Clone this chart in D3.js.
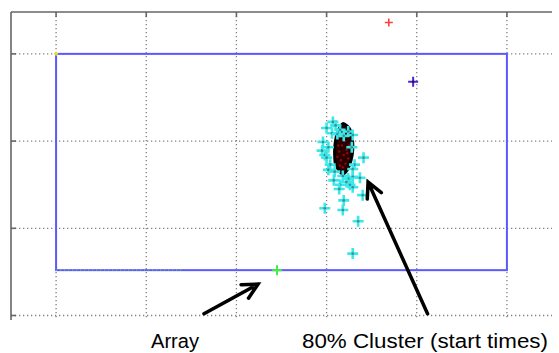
<!DOCTYPE html>
<html>
<head>
<meta charset="utf-8">
<script src="https://cdn.jsdelivr.net/npm/d3@7"></script>
<style>
  html, body { margin: 0; padding: 0; background: #fff; }
  svg { display: block; }
</style>
</head>
<body>
<div id="stage"></div>
<script>
const width = 559, height = 353;

// grid ticks (unlabelled in the original)
const xTicks = [0, 1, 2, 3, 4, 5];
const yTicks = [0, 1, 2, 3];

// search box
const boxX = [0, 5];
const boxY = [0.52, 3];

// array position and the dotted array segment along the box edge
const arrayPt = [2.45, 0.52];
const arraySeg = [0, 1.4];
const cornerPt = [0, 3];

// outliers
const redPt = [3.69, 3.36];
const purplePt = [3.96, 2.68];

// 80% cluster of start times (black outline + dark red fill)
const clusterX = [3.18, 3.23, 3.26, 3.28, 3.29, 3.29, 3.28, 3.26, 3.23, 3.18, 3.14, 3.10, 3.09, 3.09, 3.10, 3.12, 3.15];
const clusterY = [2.20, 2.17, 2.13, 2.06, 1.98, 1.90, 1.82, 1.74, 1.67, 1.62, 1.66, 1.73, 1.82, 1.92, 2.01, 2.10, 2.16];
const redDotX = [3.15, 3.20, 3.17, 3.22, 3.14, 3.19, 3.24, 3.16, 3.21, 3.18, 3.13, 3.25, 3.20, 3.15, 3.23, 3.18, 3.12];
const redDotY = [2.05, 2.00, 1.95, 1.90, 1.88, 1.84, 1.80, 1.78, 1.74, 1.70, 1.95, 1.95, 2.10, 1.72, 1.86, 2.14, 1.82];

// scattered start times
const cyanX = [3.07, 3.15, 3.00, 3.06, 3.12, 3.19, 2.96, 3.02, 2.95, 2.98, 3.00, 3.04, 3.02, 3.29, 3.28, 3.41, 3.31, 3.29, 3.09,
  3.18, 3.29, 3.37, 3.24, 3.15, 3.26, 3.29, 3.14, 3.40, 3.19, 3.18, 2.98, 3.35, 3.29, 3.08, 3.22, 3.10, 3.24];
const cyanY = [2.22, 2.13, 2.15, 2.09, 2.08, 2.06, 1.99, 1.93, 1.89, 1.84, 1.81, 1.73, 1.67, 2.07, 1.93, 1.81, 1.73, 1.68, 1.65,
  1.60, 1.59, 1.58, 1.57, 1.50, 1.50, 1.47, 1.45, 1.38, 1.32, 1.21, 1.23, 1.08, 0.71, 1.55, 1.53, 2.18, 2.11];

// annotations: [tailX, tailY, tipX, tipY]
const arrows = [[1.64, 0.02, 2.24, 0.36], [4.12, 0.02, 3.46, 1.53]];
const labels = ['Array', '80% Cluster (start times)'];

const svg = d3.select('#stage').append('svg')
  .attr('width', width)
  .attr('height', height)
  .style('background', '#fff');

const x = d3.scaleLinear().domain([-0.5, 5.5]).range([11, 552]);
const y = d3.scaleLinear().domain([-0.04, 3.48]).range([319, 12]);

// grid
const grid = svg.append('g')
  .attr('stroke', '#808080')
  .attr('stroke-width', 1.3)
  .attr('stroke-dasharray', '1.3,2.7');
grid.selectAll('.vg').data(xTicks).join('line')
  .attr('class', 'vg')
  .attr('x1', d => x(d)).attr('x2', d => x(d))
  .attr('y1', y.range()[1]).attr('y2', y.range()[0]);
grid.selectAll('.hg').data(yTicks).join('line')
  .attr('class', 'hg')
  .attr('y1', d => y(d)).attr('y2', d => y(d))
  .attr('x1', x.range()[0]).attr('x2', x.range()[1]);

// axes: top and left only, ticks inward
const axes = svg.append('g').attr('stroke', '#666').attr('stroke-width', 1.6);
axes.append('line')
  .attr('x1', x.range()[0]).attr('x2', x.range()[1])
  .attr('y1', y.range()[1]).attr('y2', y.range()[1]);
axes.append('line')
  .attr('x1', x.range()[0]).attr('x2', x.range()[0])
  .attr('y1', y.range()[1]).attr('y2', y.range()[0] + 1);
axes.selectAll('.tt').data(xTicks).join('line')
  .attr('class', 'tt')
  .attr('x1', d => x(d)).attr('x2', d => x(d))
  .attr('y1', y.range()[1]).attr('y2', y.range()[1] + 5);
axes.selectAll('.lt').data(yTicks).join('line')
  .attr('class', 'lt')
  .attr('y1', d => y(d)).attr('y2', d => y(d))
  .attr('x1', x.range()[0]).attr('x2', x.range()[0] + 5);

// blue box
svg.append('rect')
  .attr('x', x(boxX[0]))
  .attr('y', y(boxY[1]))
  .attr('width', x(boxX[1]) - x(boxX[0]))
  .attr('height', y(boxY[0]) - y(boxY[1]))
  .attr('fill', 'none')
  .attr('stroke', '#5a5aff')
  .attr('stroke-width', 2);

svg.append('line')
  .attr('x1', x(arraySeg[0])).attr('x2', x(arraySeg[1]))
  .attr('y1', y(arrayPt[1])).attr('y2', y(arrayPt[1]))
  .attr('stroke', '#5ccc5c')
  .attr('stroke-width', 1.2)
  .attr('stroke-dasharray', '1,3');

function plus(g, px, py, r, color, sw) {
  g.append('path')
    .attr('d', `M${px - r},${py}H${px + r}M${px},${py - r}V${py + r}`)
    .attr('stroke', color)
    .attr('stroke-width', sw)
    .attr('fill', 'none');
}

// cluster hull
const hull = d3.polygonHull(clusterX.map((v, i) => [x(v), y(clusterY[i])]));
svg.append('path')
  .attr('d', d3.line().curve(d3.curveCatmullRomClosed)(hull))
  .attr('fill', '#2a0000')
  .attr('stroke', '#000')
  .attr('stroke-width', 3);
svg.append('g').selectAll('circle')
  .data(redDotX.map((v, i) => [v, redDotY[i]]))
  .join('circle')
  .attr('cx', d => x(d[0]))
  .attr('cy', d => y(d[1]))
  .attr('r', 1.2)
  .attr('fill', '#8a0a0a');

// cyan start times
const cyanG = svg.append('g');
cyanX.forEach((v, i) => {
  plus(cyanG, x(v), y(cyanY[i]), 5.5, '#3ae8ea', 2.6);
  cyanG.append('circle')
    .attr('cx', x(v)).attr('cy', y(cyanY[i]))
    .attr('r', 1.3).attr('fill', '#3a8f8f');
});

const marks = svg.append('g');
plus(marks, x(redPt[0]), y(redPt[1]), 4, '#ff4040', 1.6);
plus(marks, x(purplePt[0]), y(purplePt[1]), 5, '#4a2ad0', 2);
marks.append('circle').attr('cx', x(purplePt[0])).attr('cy', y(purplePt[1])).attr('r', 1.3).attr('fill', '#301060');
plus(marks, x(arrayPt[0]), y(arrayPt[1]), 5, '#44ee44', 2);
plus(marks, x(cornerPt[0]), y(cornerPt[1]), 2, '#f0e020', 1.5);

// arrows
const arrowG = svg.append('g')
  .attr('stroke', '#000')
  .attr('stroke-width', 3.5)
  .attr('stroke-linecap', 'round')
  .attr('fill', 'none');
arrows.forEach(a => {
  const x1 = x(a[0]), y1 = y(a[1]), x2 = x(a[2]), y2 = y(a[3]);
  const ang = Math.atan2(y1 - y2, x1 - x2);
  const len = 17, spread = 27 * Math.PI / 180;
  arrowG.append('path')
    .attr('d', `M${x1},${y1}L${x2},${y2}` +
      `M${x2 + len * Math.cos(ang + spread)},${y2 + len * Math.sin(ang + spread)}L${x2},${y2}` +
      `L${x2 + len * Math.cos(ang - spread)},${y2 + len * Math.sin(ang - spread)}`);
});

// labels
const labelPos = [[175, 48], [425, 246]];
svg.selectAll('.lbl').data(labels).join('text')
  .attr('class', 'lbl')
  .attr('x', (d, i) => labelPos[i][0])
  .attr('y', 348)
  .attr('text-anchor', 'middle')
  .attr('textLength', (d, i) => labelPos[i][1])
  .attr('lengthAdjust', 'spacingAndGlyphs')
  .style('font-family', 'Liberation Sans, Arial, sans-serif')
  .style('font-size', '19.5px')
  .style('fill', '#000')
  .text(d => d);
</script>
</body>
</html>
